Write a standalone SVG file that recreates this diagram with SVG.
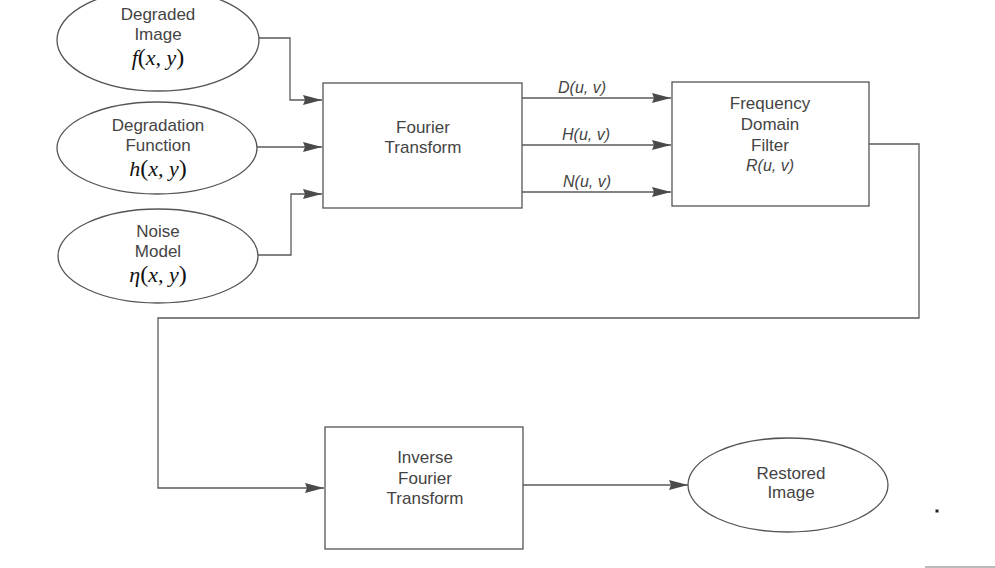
<svg xmlns="http://www.w3.org/2000/svg" width="995" height="568" viewBox="0 0 995 568">
<style>
.shape{fill:#fff;stroke:#555;stroke-width:1.3}
.conn{fill:none;stroke:#5a5a5a;stroke-width:1.3}
.t{font-family:"Liberation Sans",Arial,sans-serif;font-size:17px;fill:#444;text-anchor:middle}
.lbl{font-family:"Liberation Sans",Arial,sans-serif;font-size:16px;fill:#444;text-anchor:middle;font-style:italic}
.m{font-family:"Liberation Serif","Times New Roman",serif;font-size:22px;fill:#111;text-anchor:middle;font-style:italic}
.p{font-style:normal;font-size:24px}
</style>
<defs>
<marker id="ah" markerWidth="19" markerHeight="10" refX="19" refY="5" orient="auto" markerUnits="userSpaceOnUse">
<path d="M0,0 L19,5 L0,10 L2,5 Z" fill="#4a4a4a"/>
</marker>
</defs>
<rect width="995" height="568" fill="#fff"/>
<g id="connectors">
<path class="conn" d="M258,38 H290 V100 H322" marker-end="url(#ah)"/>
<path class="conn" d="M257,147 H322" marker-end="url(#ah)"/>
<path class="conn" d="M258,255 H291 V194 H322" marker-end="url(#ah)"/>
<path class="conn" d="M522,98 H671" marker-end="url(#ah)"/>
<path class="conn" d="M522,145 H671" marker-end="url(#ah)"/>
<path class="conn" d="M522,192 H671" marker-end="url(#ah)"/>
<path class="conn" d="M869,144 H919 V318 H158 V488 H324" marker-end="url(#ah)"/>
<path class="conn" d="M523,485 H688" marker-end="url(#ah)"/>
<text class="lbl" x="582" y="93">D(u, v)</text>
<text class="lbl" x="586" y="140">H(u, v)</text>
<text class="lbl" x="587" y="187">N(u, v)</text>
</g>
<g id="degraded-image">
<ellipse class="shape" cx="158" cy="40" rx="101" ry="51"/>
<text class="t" x="158" y="20">Degraded</text>
<text class="t" x="158" y="39.5">Image</text>
<text class="m" x="158" y="65">f<tspan class="p">(</tspan>x, y<tspan class="p">)</tspan></text>
</g>
<g id="degradation-function">
<ellipse class="shape" cx="157" cy="148" rx="100" ry="46"/>
<text class="t" x="158" y="131">Degradation</text>
<text class="t" x="158" y="151">Function</text>
<text class="m" x="158" y="176">h<tspan class="p">(</tspan>x, y<tspan class="p">)</tspan></text>
</g>
<g id="noise-model">
<ellipse class="shape" cx="158" cy="256" rx="100" ry="47"/>
<text class="t" x="158" y="237">Noise</text>
<text class="t" x="158" y="257">Model</text>
<text class="m" x="158" y="282">η<tspan class="p">(</tspan>x, y<tspan class="p">)</tspan></text>
</g>
<g id="fourier-transform">
<rect class="shape" x="323" y="83" width="199" height="125"/>
<text class="t" x="423" y="133">Fourier</text>
<text class="t" x="423" y="153">Transform</text>
</g>
<g id="frequency-domain-filter">
<rect class="shape" x="672" y="82" width="197" height="124"/>
<text class="t" x="770" y="109">Frequency</text>
<text class="t" x="770" y="130">Domain</text>
<text class="t" x="770" y="151">Filter</text>
<text class="lbl" x="770" y="171">R(u, v)</text>
</g>
<g id="inverse-fourier-transform">
<rect class="shape" x="325" y="427" width="198" height="122"/>
<text class="t" x="425" y="463">Inverse</text>
<text class="t" x="425" y="484">Fourier</text>
<text class="t" x="425" y="504">Transform</text>
</g>
<g id="restored-image">
<ellipse class="shape" cx="788" cy="485" rx="100" ry="47"/>
<text class="t" x="791" y="479">Restored</text>
<text class="t" x="791" y="498">Image</text>
</g>
<rect x="935.5" y="509.5" width="3" height="3" fill="#222"/>
<line x1="925" y1="567" x2="995" y2="567" stroke="#777" stroke-width="1"/>
</svg>
